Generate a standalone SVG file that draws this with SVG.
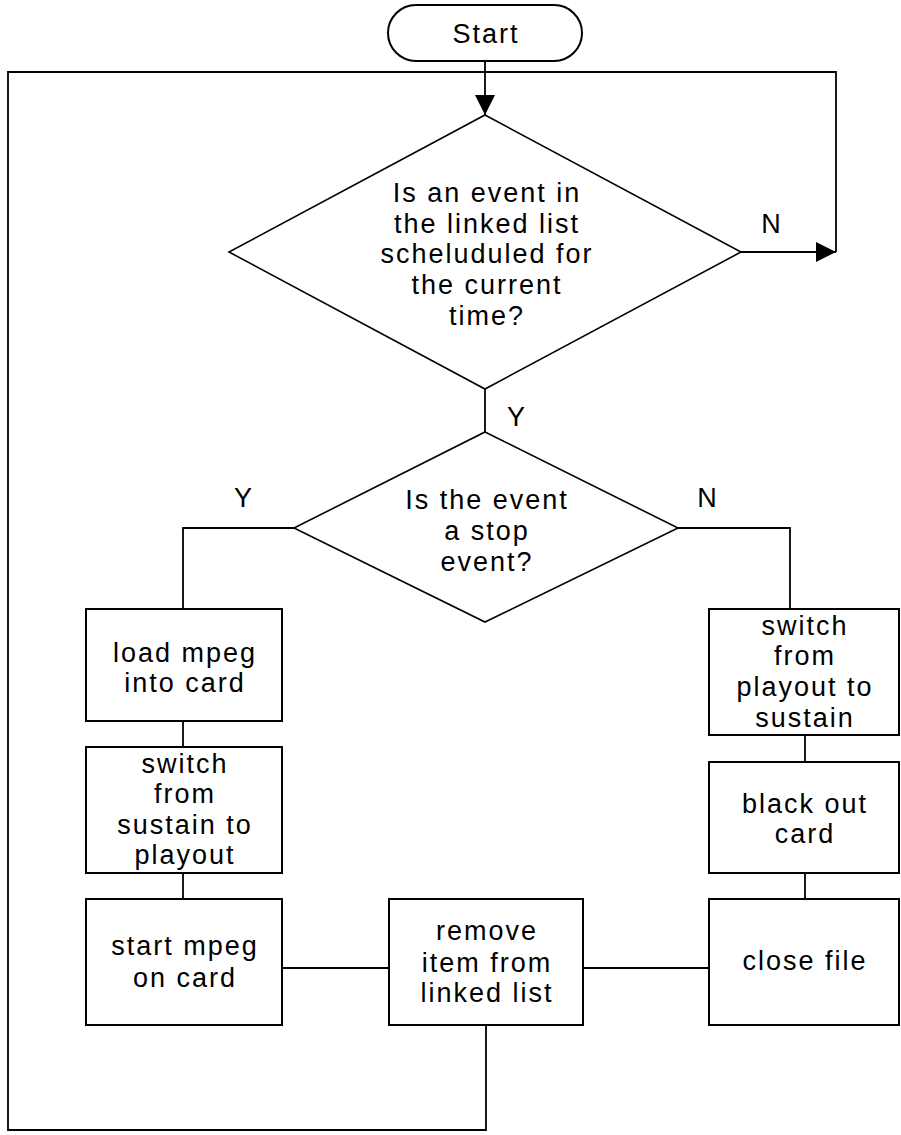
<svg xmlns="http://www.w3.org/2000/svg" width="901" height="1135" viewBox="0 0 901 1135">
<defs>
<style>
.bg{fill:#ffffff}
.shape{fill:#ffffff;stroke:#000000;stroke-width:2}
.dia{fill:#ffffff;stroke:#000000;stroke-width:1.6}
.conn{fill:none;stroke:#000000;stroke-width:1.8}
.t{font-family:"Liberation Sans",Arial,sans-serif;font-size:27px;letter-spacing:2px;fill:#000000;text-anchor:middle}
.lbl{font-family:"Liberation Sans",Arial,sans-serif;font-size:27px;fill:#000000;text-anchor:middle}
</style>
<marker id="arrow" viewBox="0 0 20 20" refX="20" refY="10" markerWidth="20" markerHeight="20" markerUnits="userSpaceOnUse" orient="auto">
<path d="M0,0 L20,10 L0,20 Z" fill="#000000"/>
</marker>
</defs>
<rect class="bg" x="0" y="0" width="901" height="1135"/>
<g id="connectors">
<path class="conn" d="M485,61 L485,115" marker-end="url(#arrow)"/>
<path class="conn" d="M486,1024 L486,1130 L8,1130 L8,72 L836,72 L836,252"/>
<path class="conn" d="M741,252 L836,252" marker-end="url(#arrow)"/>
<path class="conn" d="M485,389 L485,432"/>
<path class="conn" d="M294,528 L183,528 L183,609"/>
<path class="conn" d="M678,528 L790,528 L790,609"/>
<path class="conn" d="M183,721 L183,747"/>
<path class="conn" d="M183,873 L183,899"/>
<path class="conn" d="M805,735 L805,762"/>
<path class="conn" d="M805,873 L805,899"/>
<path class="conn" d="M282,968 L389,968"/>
<path class="conn" d="M583,968 L709,968"/>
<text class="lbl" x="771" y="233">N</text>
<text class="lbl" x="516" y="426">Y</text>
<text class="lbl" x="243" y="507">Y</text>
<text class="lbl" x="707" y="507">N</text>
</g>
<g id="start">
<rect class="shape" x="388" y="5" width="194" height="56" rx="28" ry="28"/>
<text class="t" x="486" y="43">Start</text>
</g>
<g id="decision-scheduled">
<polygon class="dia" points="485,115 741,252 485,389 229,252"/>
<text class="t" x="487" y="202">Is an event in</text>
<text class="t" x="487" y="233">the linked list</text>
<text class="t" x="487" y="263">scheluduled for</text>
<text class="t" x="487" y="294">the current</text>
<text class="t" x="487" y="325">time?</text>
</g>
<g id="decision-stop">
<polygon class="dia" points="485,432 678,528 485,622 294,528"/>
<text class="t" x="487" y="509">Is the event</text>
<text class="t" x="487" y="540">a stop</text>
<text class="t" x="487" y="571">event?</text>
</g>
<g id="load-mpeg">
<rect class="shape" x="86" y="609" width="196" height="112"/>
<text class="t" x="185" y="662">load mpeg</text>
<text class="t" x="185" y="692">into card</text>
</g>
<g id="switch-sustain-playout">
<rect class="shape" x="86" y="747" width="196" height="126"/>
<text class="t" x="185" y="773">switch</text>
<text class="t" x="185" y="803">from</text>
<text class="t" x="185" y="834">sustain to</text>
<text class="t" x="185" y="864">playout</text>
</g>
<g id="start-mpeg">
<rect class="shape" x="86" y="899" width="196" height="126"/>
<text class="t" x="185" y="955">start mpeg</text>
<text class="t" x="185" y="987">on card</text>
</g>
<g id="remove-item">
<rect class="shape" x="389" y="899" width="194" height="126"/>
<text class="t" x="487" y="940">remove</text>
<text class="t" x="487" y="972">item from</text>
<text class="t" x="487" y="1002">linked list</text>
</g>
<g id="switch-playout-sustain">
<rect class="shape" x="709" y="609" width="190" height="126"/>
<text class="t" x="805" y="635">switch</text>
<text class="t" x="805" y="665">from</text>
<text class="t" x="805" y="696">playout to</text>
<text class="t" x="805" y="727">sustain</text>
</g>
<g id="black-out">
<rect class="shape" x="709" y="762" width="190" height="111"/>
<text class="t" x="805" y="813">black out</text>
<text class="t" x="805" y="843">card</text>
</g>
<g id="close-file">
<rect class="shape" x="709" y="899" width="190" height="126"/>
<text class="t" x="805" y="970">close file</text>
</g>
</svg>
